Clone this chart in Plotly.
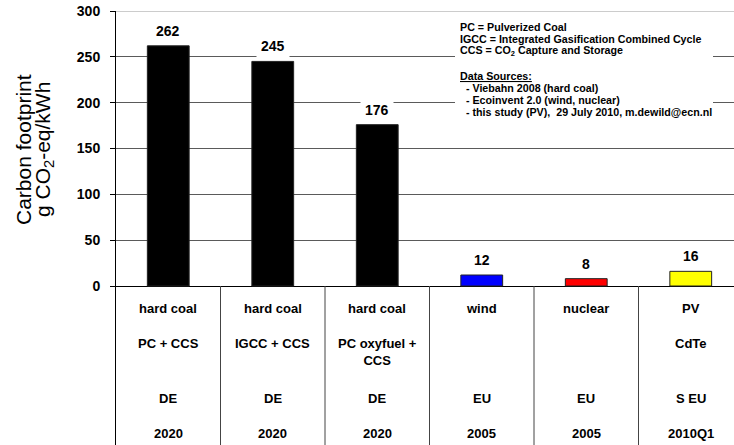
import plotly.graph_objects as go

# ---- data ----
fuel = ["hard coal", "hard coal", "hard coal", "wind", "nuclear", "PV"]
technology = ["PC + CCS", "IGCC + CCS", "PC oxyfuel +<br>CCS", "", "", "CdTe"]
region = ["DE", "DE", "DE", "EU", "EU", "S EU"]
year = ["2020", "2020", "2020", "2005", "2005", "2010Q1"]
footprint = [262, 245, 176, 12, 8, 16]
bar_colors = ["#000000", "#000000", "#000000", "#0000ff", "#ff0000", "#ffff00"]
y_ticks = [0, 50, 100, 150, 200, 250, 300]
note_lines = [
    "PC = Pulverized Coal",
    "IGCC = Integrated Gasification Combined Cycle",
    "CCS = CO<sub>2</sub> Capture and Storage",
    "",
    "<u>Data Sources:</u>",
    "  - Viebahn 2008 (hard coal)",
    "  - Ecoinvent 2.0 (wind, nuclear)",
    "  - this study (PV),  29 July 2010, m.dewild@ecn.nl",
]
y_title = ["Carbon footprint", "g CO<sub>2</sub>-eq/kWh"]

# ---- layout geometry (pixels) ----
W, H = 734, 445
L, T = 116, 11               # plot-area left / top
PW, PH = W - L, H - T
ZERO_PX = 286
CAT_W = 104.5
y_top = 300
y_min = y_top - y_top * PH / (ZERO_PX - T)
x_max = -0.5 + PW / CAT_W


def py(p):
    return 1 - (p - T) / PH


def px(p):
    return (p - L) / PW


FONT = "Liberation Sans, Arial, sans-serif"
x = list(range(len(fuel)))

fig = go.Figure()
fig.add_trace(go.Bar(
    x=x, y=footprint, width=0.4,
    marker=dict(color=bar_colors, line=dict(color="#222222", width=1)),
    hoverinfo="skip",
))

ann = []
# value labels
for xi, v in zip(x, footprint):
    ann.append(dict(x=xi, y=v, xref="x", yref="y", text=f"<b>{v}</b>",
                    showarrow=False, yanchor="bottom", yshift=2,
                    bgcolor="white", borderpad=4,
                    font=dict(family=FONT, size=14, color="black")))

# table rows below the axis
rows = [(fuel, 308), (technology, 343), (region, 398), (year, 433)]
for labels, cy in rows:
    for xi, lab in zip(x, labels):
        if not lab:
            continue
        ann.append(dict(x=xi, y=py(cy - 9.5), xref="x", yref="paper",
                        text=f"<b>{lab}</b>", showarrow=False,
                        yanchor="top", xanchor="center", align="center",
                        font=dict(family=FONT, size=13, color="black")))

# note box text
note_y0, note_dy = 27, 12.15
for i, line in enumerate(note_lines):
    if not line:
        continue
    ann.append(dict(x=px(458), y=py(note_y0 + i * note_dy), xref="paper", yref="paper",
                    text=f"<b>{line.replace('  ', '&nbsp;&nbsp;')}</b>", showarrow=False,
                    xanchor="left", yanchor="middle", align="left",
                    font=dict(family=FONT, size=10.7, color="black")))

# y-axis title (two lines)
for t, cx in zip(y_title, [23, 44]):
    ann.append(dict(x=px(cx), y=py(150), xref="paper", yref="paper",
                    text=t, textangle=-90, showarrow=False,
                    xanchor="center", yanchor="middle",
                    font=dict(family=FONT, size=21, color="black")))

shapes = []
# vertical table lines
for b in range(1, len(fuel)):
    shapes.append(dict(type="line", xref="x", yref="y", x0=b - 0.5, x1=b - 0.5,
                       y0=y_min, y1=0, line=dict(color="#444444", width=1), layer="above"))
# top border
shapes.append(dict(type="line", xref="paper", yref="y", x0=0, x1=1, y0=y_top, y1=y_top,
                   line=dict(color="#9a9a9a", width=1), layer="above"))
# white note box
shapes.append(dict(type="rect", xref="paper", yref="paper",
                   x0=px(455), x1=px(713), y0=py(125), y1=py(15),
                   fillcolor="white", line=dict(width=0), layer="above"))

fig.update_layout(
    width=W, height=H,
    margin=dict(l=L, r=0, t=T, b=0, pad=0, autoexpand=False),
    paper_bgcolor="white", plot_bgcolor="white",
    showlegend=False,
    annotations=ann, shapes=shapes,
    xaxis=dict(range=[-0.5, x_max], showticklabels=False, showgrid=False,
               zeroline=False, showline=False, ticks="", automargin=False),
    yaxis=dict(range=[y_min, y_top], tickvals=y_ticks,
               ticktext=[f"<b>{v}</b>" for v in y_ticks],
               tickfont=dict(family=FONT, size=14, color="black"),
               ticklabeloverflow="allow", automargin=False,
               showgrid=True, gridcolor="#5a5a5a", gridwidth=1,
               zeroline=True, zerolinecolor="#000000", zerolinewidth=1,
               showline=True, linecolor="#000000", linewidth=1,
               ticks="outside", ticklen=5, tickcolor="#000000",
               ticklabelstandoff=7),
)

# remove the default page margin so the figure sits at the window's top-left corner
fig.write_html("out.html",
               config={"displayModeBar": False, "staticPlot": True},
               post_script="document.body.style.margin='0';document.body.style.overflow='hidden';")
